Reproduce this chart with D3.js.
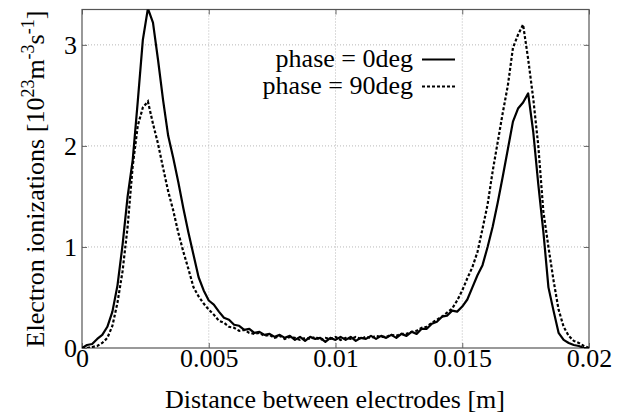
<!DOCTYPE html>
<meta charset="utf-8">
<html>
<head>
<script src="https://d3js.org/d3.v7.min.js"></script>
<style>
  body { margin: 0; background: #fff; }
  svg text { font-family: "Liberation Serif", Tinos, "Nimbus Roman", "DejaVu Serif", serif; fill: #000; }
</style>
</head>
<body>
<svg id="viz" width="625" height="416"></svg>
<script>
// x positions: 0 .. 0.02 m, step 0.0002
const xStep = 0.0002;
const xTicks = [0, 0.005, 0.01, 0.015, 0.02];
const xTickLabels = ["0", "0.005", "0.01", "0.015", "0.02"];
const yTicks = [0, 1, 2, 3];
const seriesNames = ["phase = 0deg", "phase = 90deg"];

// phase = 0deg (solid)
const phase0 = [
  0.00, 0.03, 0.04, 0.09, 0.13, 0.21, 0.36, 0.62, 1.02, 1.50,
  1.86, 2.44, 3.05, 3.36, 3.22, 2.85, 2.45, 2.10, 1.88, 1.64,
  1.38, 1.14, 0.92, 0.70, 0.57, 0.47, 0.43, 0.36, 0.30, 0.28,
  0.23, 0.22, 0.18, 0.19, 0.15, 0.16, 0.13, 0.14, 0.11, 0.13,
  0.10, 0.12, 0.08, 0.11, 0.07, 0.11, 0.09, 0.10, 0.06, 0.10,
  0.08, 0.11, 0.08, 0.11, 0.07, 0.10, 0.09, 0.12, 0.09, 0.12,
  0.10, 0.13, 0.10, 0.14, 0.12, 0.16, 0.14, 0.19, 0.19, 0.24,
  0.26, 0.31, 0.32, 0.37, 0.36, 0.41, 0.48, 0.60, 0.72, 0.82,
  1.00, 1.20, 1.44, 1.70, 1.97, 2.24, 2.37, 2.43, 2.52, 2.14,
  1.62, 1.15, 0.60, 0.37, 0.15, 0.08, 0.05, 0.03, 0.02, 0.00,
  0.00
];

// phase = 90deg (dashed)
const phase90 = [
  0.00, 0.00, 0.01, 0.02, 0.05, 0.10, 0.22, 0.45, 0.76, 1.20,
  1.80, 2.20, 2.38, 2.44, 2.22, 2.02, 1.78, 1.55, 1.36, 1.14,
  0.95, 0.78, 0.60, 0.51, 0.44, 0.38, 0.33, 0.27, 0.25, 0.21,
  0.20, 0.17, 0.18, 0.15, 0.14, 0.15, 0.12, 0.13, 0.10, 0.12,
  0.09, 0.11, 0.10, 0.08, 0.10, 0.09, 0.11, 0.08, 0.10, 0.09,
  0.11, 0.08, 0.10, 0.09, 0.11, 0.09, 0.11, 0.10, 0.12, 0.11,
  0.11, 0.13, 0.12, 0.14, 0.14, 0.16, 0.17, 0.20, 0.21, 0.25,
  0.28, 0.31, 0.35, 0.39, 0.47, 0.57, 0.69, 0.80, 0.95, 1.18,
  1.42, 1.75, 2.04, 2.33, 2.60, 2.97, 3.10, 3.20, 2.86, 2.47,
  2.00, 1.35, 1.00, 0.67, 0.38, 0.21, 0.12, 0.07, 0.05, 0.02,
  0.00
];

const pLeft = 82, pRight = 589, pTop = 9.5, pBottom = 348;
const serif = "'Liberation Serif', Tinos, 'Nimbus Roman', 'DejaVu Serif', serif";
const fs = 26;
const svg = d3.select("#viz");

const x = d3.scaleLinear().domain([0, 0.02]).range([pLeft, pRight]);
const y = d3.scaleLinear().domain([0, 3.35]).range([pBottom, pTop]);

svg.append("clipPath").attr("id", "plotclip")
  .append("rect")
  .attr("x", pLeft).attr("y", pTop)
  .attr("width", pRight - pLeft).attr("height", pBottom - pTop);

// grid
const grid = svg.append("g");
grid.selectAll(".gx").data(xTicks.slice(1, -1)).enter().append("line")
  .attr("x1", d => x(d)).attr("x2", d => x(d))
  .attr("y1", pTop).attr("y2", pBottom)
  .attr("stroke", "#b8b8b8").attr("stroke-width", 1)
  .attr("stroke-dasharray", "1,2");
grid.selectAll(".gy").data(yTicks.slice(1)).enter().append("line")
  .attr("x1", pLeft).attr("x2", pRight)
  .attr("y1", d => y(d)).attr("y2", d => y(d))
  .attr("stroke", "#b8b8b8").attr("stroke-width", 1)
  .attr("stroke-dasharray", "1,2");

// axes (ticks inward, mirrored)
const xAxis = d3.axisBottom(x).tickValues(xTicks).tickSize(-5)
  .tickFormat((d, i) => xTickLabels[i]).tickPadding(1);
const xTop = d3.axisTop(x).tickValues(xTicks).tickSize(-5).tickFormat("");
const yAxis = d3.axisLeft(y).tickValues(yTicks).tickSize(-5).tickPadding(5)
  .tickFormat(d3.format("d"));
const yRight = d3.axisRight(y).tickValues(yTicks).tickSize(-5).tickFormat("");

function styleAxis(g) {
  g.attr("font-family", serif).attr("font-size", fs);
  g.select(".domain").remove();
  g.selectAll(".tick line").attr("stroke", "#666").attr("stroke-width", 1);
  g.selectAll("text").attr("fill", "#000");
}

svg.append("g").attr("transform", "translate(0," + pBottom + ")").call(xAxis).call(styleAxis);
svg.append("g").attr("transform", "translate(0," + pTop + ")").call(xTop).call(styleAxis);
svg.append("g").attr("transform", "translate(" + pLeft + ",0)").call(yAxis).call(styleAxis);
svg.append("g").attr("transform", "translate(" + pRight + ",0)").call(yRight).call(styleAxis);

// frame
svg.append("rect")
  .attr("x", pLeft).attr("y", pTop)
  .attr("width", pRight - pLeft).attr("height", pBottom - pTop)
  .attr("fill", "none").attr("stroke", "#555").attr("stroke-width", 1.2);

// curves
const line = d3.line()
  .x((d, i) => x(i * xStep))
  .y(d => y(d));

const curves = svg.append("g").attr("clip-path", "url(#plotclip)");
curves.append("path").datum(phase0)
  .attr("d", line).attr("fill", "none")
  .attr("stroke", "#000").attr("stroke-width", 2.2)
  .attr("stroke-linejoin", "round");
curves.append("path").datum(phase90)
  .attr("d", line).attr("fill", "none")
  .attr("stroke", "#000").attr("stroke-width", 2.2)
  .attr("stroke-dasharray", "3,2");

// legend
const legend = svg.append("g").attr("font-family", serif);
legend.selectAll("text").data(seriesNames).enter().append("text")
  .attr("x", 413).attr("y", (d, i) => 67 + i * 27)
  .attr("text-anchor", "end")
  .attr("font-size", fs)
  .text(d => d);
legend.selectAll("line").data(seriesNames).enter().append("line")
  .attr("x1", 422).attr("x2", 455)
  .attr("y1", (d, i) => 59.5 + i * 27).attr("y2", (d, i) => 59.5 + i * 27)
  .attr("stroke", "#000").attr("stroke-width", 2.2)
  .attr("stroke-dasharray", (d, i) => i ? "3,2" : null);

// axis titles
svg.append("text")
  .attr("x", 335).attr("y", 408)
  .attr("text-anchor", "middle")
  .attr("font-family", serif).attr("font-size", fs)
  .text("Distance between electrodes [m]");

const yt = svg.append("text")
  .attr("transform", "translate(44," + 179 + ") rotate(-90)")
  .attr("text-anchor", "middle")
  .attr("font-family", serif).attr("font-size", fs);
yt.append("tspan").text("Electron ionizations [10");
yt.append("tspan").attr("dy", -10).attr("font-size", 18).text("23");
yt.append("tspan").attr("dy", 10).text("m");
yt.append("tspan").attr("dy", -10).attr("font-size", 18).text("-3");
yt.append("tspan").attr("dy", 10).text("s");
yt.append("tspan").attr("dy", -10).attr("font-size", 18).text("-1");
yt.append("tspan").attr("dy", 10).text("]");
</script>
</body>
</html>
